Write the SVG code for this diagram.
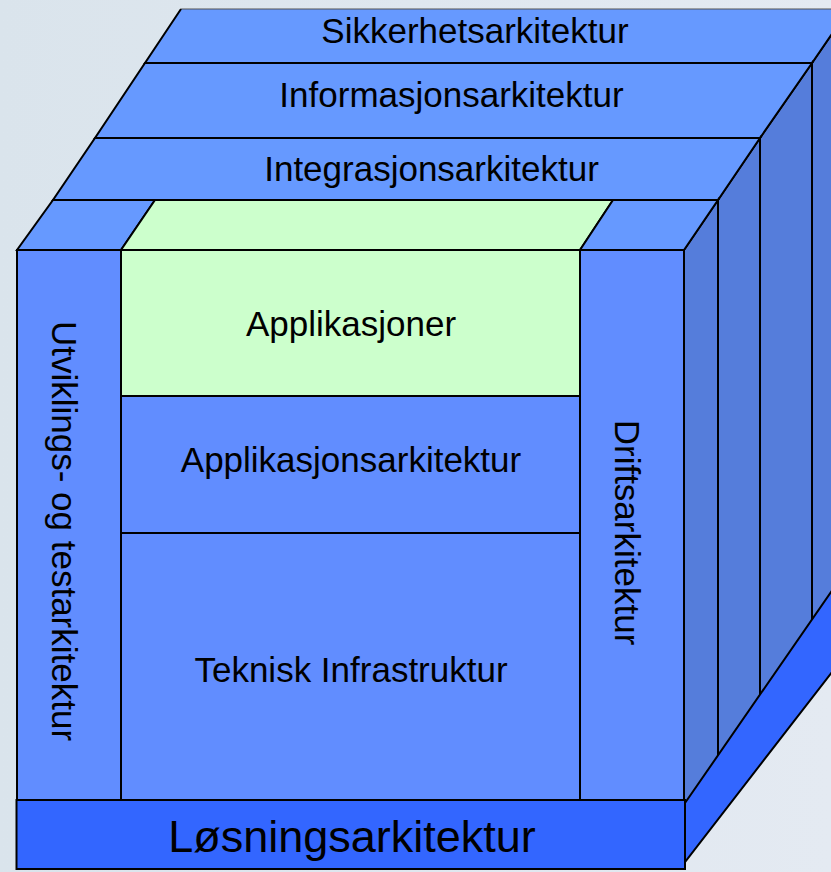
<svg xmlns="http://www.w3.org/2000/svg" width="831" height="872" viewBox="0 0 831 872">
  <defs>
    <linearGradient id="bg" x1="0" y1="0" x2="1" y2="0">
      <stop offset="0" stop-color="#dae4ec"/>
      <stop offset="1" stop-color="#e4eaf2"/>
    </linearGradient>
  </defs>
  <style>
    .e { stroke: #000; stroke-width: 2; stroke-linejoin: miter; }
    .top { fill: #6699ff; }
    .front { fill: #618dff; }
    .side { fill: #557ddb; }
    .base { fill: #3366ff; }
    .green { fill: #ccffcc; }
    text { font-family: "Liberation Sans", Arial, sans-serif; font-size: 35px; fill: #000; text-anchor: middle; }
    .big { font-size: 45px; }
  </style>
  <rect x="0" y="0" width="831" height="872" fill="url(#bg)"/>

  <g id="sikkerhetsarkitektur">
    <polygon class="side e" points="812,63 849,9 849,600 812,640"/>
    <polygon class="top" points="181,9 849,9 812,63 145,63"/>
    <line x1="181" y1="9" x2="849" y2="9" stroke="#555" stroke-width="1.2"/>
    <polyline class="e" fill="none" points="181,9 145,63 812,63 849,9"/>
    <text x="475" y="43">Sikkerhetsarkitektur</text>
  </g>

  <g id="informasjonsarkitektur">
    <polygon class="side e" points="760,138 812,63 812,640 760,720"/>
    <polygon class="top e" points="145,63 812,63 760,138 95,138"/>
    <text x="451.5" y="107">Informasjonsarkitektur</text>
  </g>

  <g id="integrasjonsarkitektur">
    <polygon class="side e" points="718,200 760,138 760,720 718,780"/>
    <polygon class="top e" points="95,138 760,138 718,200 53,200"/>
    <text x="431.5" y="181">Integrasjonsarkitektur</text>
  </g>

  <g id="utviklings-og-testarkitektur">
    <polygon class="top e" points="53,200 155,200 121,250 17,250"/>
    <rect class="front e" x="17" y="250" width="104" height="550"/>
    <text transform="translate(52,531) rotate(90)" x="0" y="0">Utviklings- og testarkitektur</text>
  </g>

  <g id="applikasjoner">
    <polygon class="green e" points="155,200 613,200 580,250 121,250"/>
    <rect class="green e" x="121" y="250" width="459" height="146"/>
    <text x="351" y="336">Applikasjoner</text>
  </g>

  <g id="applikasjonsarkitektur">
    <rect class="front e" x="121" y="396" width="459" height="137"/>
    <text x="351" y="472">Applikasjonsarkitektur</text>
  </g>

  <g id="teknisk-infrastruktur">
    <rect class="front e" x="121" y="533" width="459" height="267"/>
    <text x="351" y="682">Teknisk Infrastruktur</text>
  </g>

  <g id="driftsarkitektur">
    <polygon class="side e" points="684,250 718,200 718,780 684,830"/>
    <polygon class="top e" points="613,200 718,200 684,250 580,250"/>
    <rect class="front e" x="580" y="250" width="104" height="550"/>
    <text transform="translate(615,532.5) rotate(90)" x="0" y="0">Driftsarkitektur</text>
  </g>

  <g id="losningsarkitektur">
    <polygon class="base e" points="685,803 849,566 849,650 685,862"/>
    <rect class="base e" x="16.5" y="800" width="668.5" height="69"/>
    <text class="big" x="352" y="852">Løsningsarkitektur</text>
  </g>

  <g id="connectors"/>
</svg>
